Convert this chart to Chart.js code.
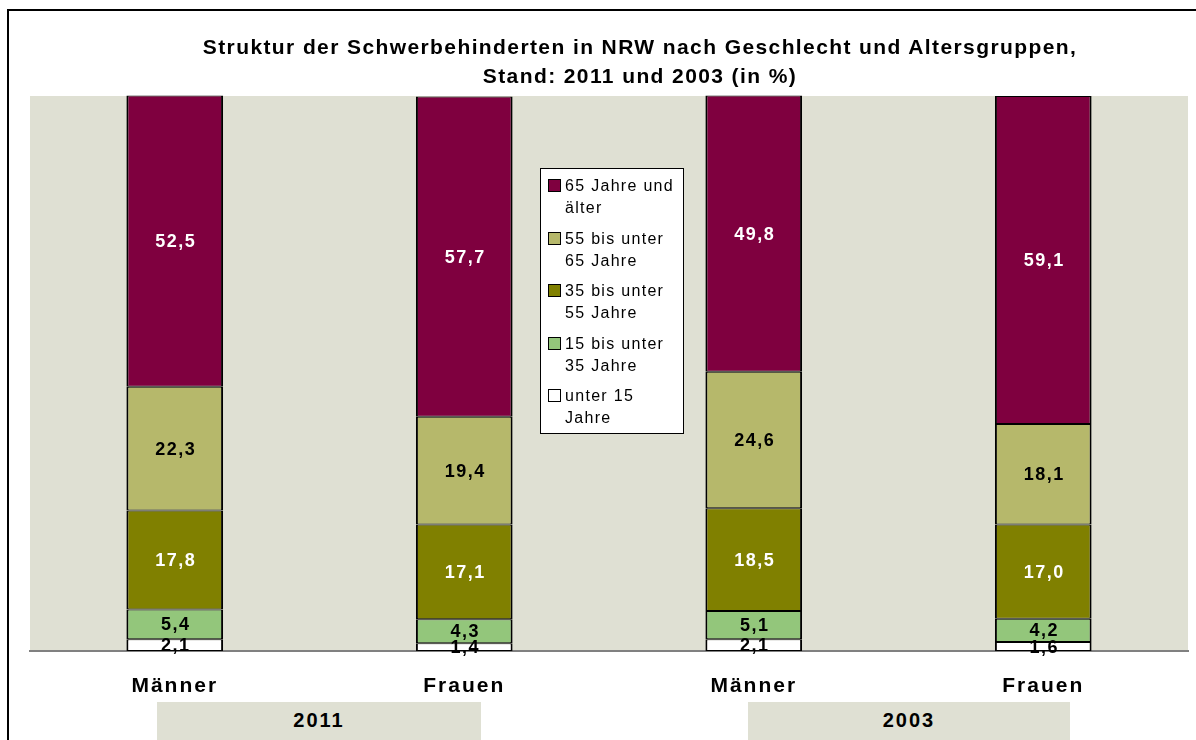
<!DOCTYPE html>
<html>
<head>
<meta charset="utf-8">
<script src="https://cdn.jsdelivr.net/npm/chart.js@4"></script>
<style>
  body { margin: 0; background: #fff; font-family: "Liberation Sans", Arial, sans-serif; }
  #wrap { position: relative; width: 1196px; height: 740px; overflow: hidden; }
  #chart { position: absolute; left: 0; top: 0; }
  #frame { position: absolute; left: 7px; top: 9px; width: 1300px; height: 800px;
           border-left: 2px solid #000; border-top: 2px solid #000; }
  #title { position: absolute; left: 90px; width: 1100px; top: 32px; text-align: center;
           font-weight: bold; font-size: 21px; line-height: 29px; letter-spacing: 1.4px; color: #000; }
  #legend { position: absolute; left: 540px; top: 168px; width: 142px; height: 264px;
            background: #fff; border: 1px solid #000; }
  .item { position: absolute; left: 7px; width: 132px; font-size: 16px; line-height: 22px; letter-spacing: 1.3px; }
  .sw { position: absolute; left: 0; top: 4px; width: 11px; height: 11px; border: 1px solid #000; }
  .txt { position: absolute; left: 17px; width: 118px; }
  .year { position: absolute; top: 702px; height: 40px; background: #DFE0D3;
          font-weight: bold; font-size: 20px; letter-spacing: 2px; line-height: 36px; text-align: center; }
</style>
</head>
<body>
<div id="wrap">
  <canvas id="chart" width="1196" height="740"></canvas>
  <div id="frame"></div>
  <div id="title">Struktur der Schwerbehinderten in NRW nach Geschlecht und Altersgruppen,<br>Stand: 2011 und 2003 (in %)</div>
  <div id="legend"></div>
  <div class="year" style="left:157px;width:324px;">2011</div>
  <div class="year" style="left:748px;width:322px;">2003</div>
</div>
<script>
// Categories and series (percent)
var categories = ['Männer', 'Frauen', 'Männer', 'Frauen'];
var under15   = [2.1, 1.4, 2.1, 1.6];
var age15to35 = [5.4, 4.3, 5.1, 4.2];
var age35to55 = [17.8, 17.1, 18.5, 17.0];
var age55to65 = [22.3, 19.4, 24.6, 18.1];
var age65plus = [52.5, 57.7, 49.8, 59.1];

var series = [
    { label: 'unter 15 Jahre', data: under15, color: '#FFFFFF', text: '#000' },
    { label: '15 bis unter 35 Jahre', data: age15to35, color: '#93C67B', text: '#000' },
    { label: '35 bis unter 55 Jahre', data: age35to55, color: '#808000', text: '#fff' },
    { label: '55 bis unter 65 Jahre', data: age55to65, color: '#B6B86B', text: '#000' },
    { label: '65 Jahre und älter', data: age65plus, color: '#7F003F', text: '#fff' }
];

// plot background + letter spacing for ticks
var bgPlugin = {
    id: 'bg',
    beforeDraw: function (chart) {
        var a = chart.chartArea, ctx = chart.ctx;
        ctx.save();
        ctx.fillStyle = '#DFE0D3';
        ctx.fillRect(a.left, a.top, a.right - a.left, a.bottom - a.top);
        ctx.restore();
        ctx.letterSpacing = '2px';
    }
};

// value labels in the middle of each segment
var labelPlugin = {
    id: 'vals',
    afterDatasetsDraw: function (chart) {
        var ctx = chart.ctx;
        ctx.save();
        ctx.letterSpacing = '1.5px';
        ctx.font = 'bold 18px "Liberation Sans", Arial, sans-serif';
        ctx.textAlign = 'center';
        ctx.textBaseline = 'middle';
        chart.data.datasets.forEach(function (ds, i) {
            chart.getDatasetMeta(i).data.forEach(function (bar, j) {
                ctx.fillStyle = series[i].text;
                var txt = ds.data[j].toFixed(1).replace('.', ',');
                ctx.fillText(txt, bar.x + 1, (bar.y + bar.base) / 2 + 1);
            });
        });
        ctx.restore();
    }
};

var ctx = document.getElementById('chart').getContext('2d');
var chart = new Chart(ctx, {
    type: 'bar',
    data: {
        labels: categories,
        datasets: series.map(function (s) {
            return {
                label: s.label,
                data: s.data,
                backgroundColor: s.color,
                borderColor: '#000',
                borderWidth: { top: 1, bottom: 1, left: 2, right: 2 },
                borderSkipped: false,
                categoryPercentage: 1,
                barPercentage: 0.334,
                clip: false
            };
        })
    },
    options: {
        responsive: false,
        animation: false,
        layout: { padding: { left: 30, right: 8, top: 96, bottom: 29 } },
        plugins: { legend: { display: false }, title: { display: false }, tooltip: { enabled: false } },
        scales: {
            x: {
                stacked: true,
                grid: { display: false, drawTicks: false },
                border: { display: true, color: '#808080', width: 2 },
                ticks: { color: '#000', padding: 23, font: { family: '"Liberation Sans", Arial, sans-serif', size: 21, weight: 'bold' } },
                afterFit: function (scale) { scale.height = 60; }
            },
            y: {
                stacked: true,
                display: false,
                min: 0,
                max: 100
            }
        }
    },
    plugins: [bgPlugin, labelPlugin]
});

// legend box, top series first
var legend = document.getElementById('legend');
series.slice().reverse().forEach(function (s, i) {
    var d = document.createElement('div');
    d.className = 'item';
    d.style.top = (6 + i * 52.5) + 'px';
    d.innerHTML = '<div class="sw" style="background:' + s.color + '"></div><div class="txt">' + s.label + '</div>';
    legend.appendChild(d);
});
</script>
</body>
</html>
